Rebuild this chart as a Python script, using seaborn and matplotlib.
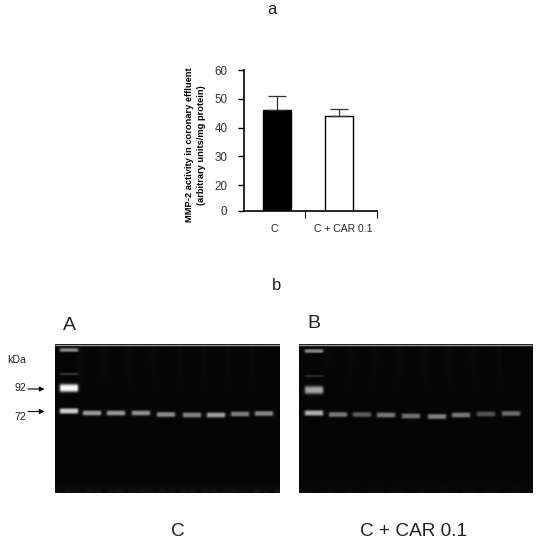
import numpy as np
import pandas as pd
import matplotlib
matplotlib.use("Agg")
import matplotlib.pyplot as plt
import seaborn as sns

groups = ["C", "C + CAR 0.1"]
activity = [46, 44]
errors = [4.8, 2.6]
# The reference axis is broken: its lowest tick, labelled 0, sits at about 11 on the upper scale
ytick_pos = [11.1, 20, 30, 40, 50, 60]
ytick_labels = ["0", "20", "30", "40", "50", "60"]

lane_x_a = [92, 116, 141, 166, 192, 216, 240, 264]
lane_y_a = [413, 413, 413, 414.5, 415, 415, 414, 413.5]
lane_i_a = [.58, .56, .54, .52, .48, .60, .46, .50]
ladder_y_a = [350, 374, 388, 411]
ladder_i_a = [.50, .16, .95, .78]
ladder_h_a = [2.0, 1.4, 4.0, 2.8]

lane_x_b = [338, 362, 386, 411, 437, 461, 486, 511]
lane_y_b = [414.5, 414.5, 415, 416, 416.5, 415, 414, 413.5]
lane_i_b = [.44, .34, .44, .42, .48, .44, .30, .40]
ladder_y_b = [351, 376, 390, 413]
ladder_i_b = [.50, .13, .62, .66]
ladder_h_b = [2.0, 1.3, 4.0, 2.8]

W, H = 539, 550
sns.set_theme(style="white")
plt.rcParams["font.family"] = ["Liberation Sans", "DejaVu Sans"]
fig = plt.figure(figsize=(W / 100, H / 100), dpi=100)


def axes_px(x0, y0, x1, y1):
    return fig.add_axes([x0 / W, 1 - y1 / H, (x1 - x0) / W, (y1 - y0) / H])


def gel(x0, y0, x1, y1, ladder_x, ly, li, lh, lx, lyy, lin, smear):
    xx, yy = np.meshgrid(np.arange(x0, x1) + .5, np.arange(y0, y1) + .5)
    img = np.full(xx.shape, .022)

    def band(cx, cy, hw, hh, amp):
        return amp * np.exp(-np.clip(np.abs(xx - cx) - hw, 0, None) ** 2 / 6.0) * np.exp(-np.abs((yy - cy) / hh) ** 3)

    for y, i, h in zip(ly, li, lh):
        img += band(ladder_x, y, 7, h, i)
    for x, y, i in zip(lx, lyy, lin):
        img += band(x, y, 7, 2.6, i)
        # faint well streak above each lane
        img += .015 * np.exp(-((xx - x + 12) / 3.0) ** 2) * np.exp(-((yy - y0 - 10) / 25.0) ** 2)
    # faint smear along the bottom edge
    img += smear * np.exp(-((yy - y1) / 5.0) ** 2) * (0.6 + 0.4 * np.sin(xx / 6.0) * np.sin(xx / 2.3))
    ax = axes_px(x0, y0, x1, y1)
    sns.heatmap(np.clip(img, 0, 1), ax=ax, cmap="gray", vmin=0, vmax=1, cbar=False,
                xticklabels=False, yticklabels=False, rasterized=True)
    ax.axhline(0.5, color="#999999", lw=1)
    return ax


gel(55, 344, 280, 493, 69, ladder_y_a, ladder_i_a, ladder_h_a, lane_x_a, lane_y_a, lane_i_a, .07)
gel(299, 344, 533, 493, 314, ladder_y_b, ladder_i_b, ladder_h_b, lane_x_b, lane_y_b, lane_i_b, .03)

# bar panel
ax = axes_px(244, 70, 377, 210.7)
df = pd.DataFrame({"group": groups, "activity": activity})
sns.barplot(data=df, x="group", y="activity", hue="group", palette=["black", "white"],
            edgecolor="black", linewidth=1, width=.46, legend=False, ax=ax)
ax.errorbar(range(2), activity, yerr=[[0, 0], errors], fmt="none", ecolor="#333333",
            elinewidth=.9, capsize=6.5, capthick=.9)
ax.set_xlim(-.53, 1.61)
ax.set_ylim(ytick_pos[0], 60)
ax.set_xlabel("")
ax.set_ylabel("")
ax.set_yticks(ytick_pos)
ax.set_yticklabels(ytick_labels, fontsize=8.4, color="#333333")
ax.set_xticks([.45, 1.61])
ax.set_xticklabels([])
ax.tick_params(axis="y", left=True, length=4, width=1, color="black", pad=8)
ax.tick_params(axis="x", bottom=True, length=5, width=.8, color="black")
for s in ["top", "right"]:
    ax.spines[s].set_visible(False)
for s in ["left", "bottom"]:
    ax.spines[s].set_color("black")
    ax.spines[s].set_linewidth(1.2)


def txt(x, y, s, size, **kw):
    kw.setdefault("color", "#222222")
    fig.text(x / W, 1 - y / H, s, fontsize=size, ha="center", va="center", **kw)


txt(274, 229, groups[0], 7.5)
txt(343, 229, groups[1], 7.5)
txt(189, 145, "MMP-2 activity in coronary effluent", 6.7, rotation=90, fontweight="bold", color="black")
txt(202, 145, "(arbitrary units/mg protein)", 6.7, rotation=90, fontweight="bold", color="black")
txt(272, 9, "a", 12)
txt(277, 286, "b", 12)
txt(69, 325, "A", 14)
txt(314, 324, "B", 14)
txt(17, 360, "kDa", 7.6)
txt(20, 388, "92", 7.6)
txt(20, 417, "72", 7.6)
txt(178, 531, groups[0], 13.7)
txt(414, 531, groups[1], 13.7)

for y in [389, 411.5]:
    fig.add_artist(matplotlib.patches.FancyArrowPatch(
        (28 / W, 1 - y / H), (44.5 / W, 1 - y / H), transform=fig.transFigure,
        arrowstyle="-|>", mutation_scale=7, lw=.8, color="black", shrinkA=0, shrinkB=0))

fig.savefig("out.png", dpi=100)
